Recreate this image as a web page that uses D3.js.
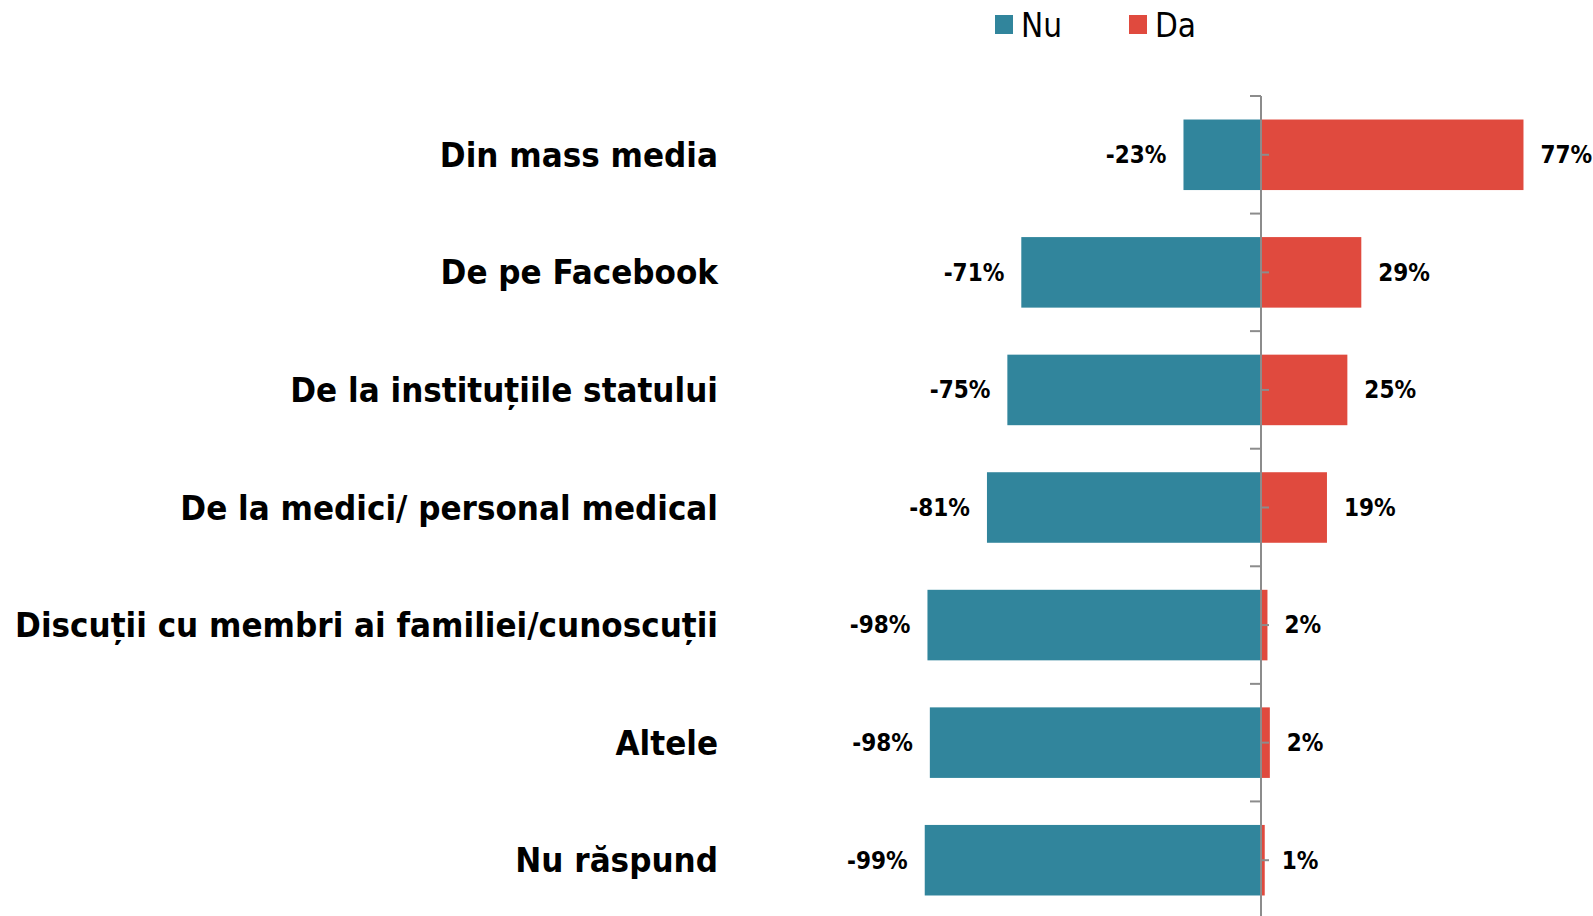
<!DOCTYPE html>
<html>
<head>
<meta charset="utf-8">
<script src="https://cdn.jsdelivr.net/npm/d3@7"></script>
<style>
body { margin: 0; background: #fff; }
svg { display: block; }
text { font-family: "Liberation Sans Narrow", "DejaVu Sans Condensed", sans-serif; fill: #000; }
</style>
</head>
<body>
<div id="chart"></div>
<script>
// DATA
var categories = ["Din mass media", "De pe Facebook", "De la instituțiile statului",
	"De la medici/ personal medical", "Discuții cu membri ai familiei/cunoscuții",
	"Altele", "Nu răspund"];
var nuValues = [-22.8, -70.5, -74.6, -80.6, -98.1, -97.4, -98.9];
var daValues = [77.2, 29.5, 25.4, 19.4, 1.9, 2.6, 1.1];
var nuLabels = ["-23%", "-71%", "-75%", "-81%", "-98%", "-98%", "-99%"];
var daLabels = ["77%", "29%", "25%", "19%", "2%", "2%", "1%"];
var seriesNames = ["Nu", "Da"];

var COLOUR_NU = "#31859C";
var COLOUR_DA = "#E04A3E";
var AXISCOLOUR = "#8C8C8C";

var width = 1593;
var height = 916;

var mySVG = d3.select("#chart")
	.append("svg")
	.attr("width", width)
	.attr("height", height);

var x = d3.scaleLinear()
	.domain([-100, 100])
	.range([921, 1601]);

var y = d3.scaleBand()
	.domain(categories)
	.range([96, 919])
	.paddingInner(0.4)
	.paddingOuter(0.2);

var g = mySVG.append("g");

//Nu bars
g.selectAll(".barNu")
	.data(nuValues)
	.enter().append("rect")
	.attr("class", "barNu")
	.attr("x", function(d) { return x(d); })
	.attr("width", function(d) { return x(0) - x(d); })
	.attr("y", function(d, i) { return y(categories[i]); })
	.attr("height", y.bandwidth())
	.attr("fill", COLOUR_NU);

//Da bars
g.selectAll(".barDa")
	.data(daValues)
	.enter().append("rect")
	.attr("class", "barDa")
	.attr("x", x(0))
	.attr("width", function(d) { return x(d) - x(0); })
	.attr("y", function(d, i) { return y(categories[i]); })
	.attr("height", y.bandwidth())
	.attr("fill", COLOUR_DA);

//axis line + ticks
var step = y.step();
var y0 = y.range()[0];
var boundaries = d3.range(categories.length + 1).map(function(i) { return y0 + i * step; });

g.append("line")
	.attr("x1", x(0)).attr("x2", x(0))
	.attr("y1", y0).attr("y2", y.range()[1])
	.attr("stroke", AXISCOLOUR)
	.attr("stroke-width", 2);

g.selectAll(".tickMajor")
	.data(boundaries)
	.enter().append("line")
	.attr("x1", x(0) - 11).attr("x2", x(0))
	.attr("y1", function(d) { return d; })
	.attr("y2", function(d) { return d; })
	.attr("stroke", AXISCOLOUR)
	.attr("stroke-width", 2);

g.selectAll(".tickMinor")
	.data(categories)
	.enter().append("line")
	.attr("x1", x(0)).attr("x2", x(0) + 8)
	.attr("y1", function(d) { return y(d) + y.bandwidth() / 2; })
	.attr("y2", function(d) { return y(d) + y.bandwidth() / 2; })
	.attr("stroke", AXISCOLOUR)
	.attr("stroke-width", 2);

//category labels
g.selectAll(".catLabel")
	.data(categories)
	.enter().append("text")
	.attr("x", 718)
	.attr("y", function(d) { return y(d) + y.bandwidth() / 2; })
	.attr("dy", "0.35em")
	.style("text-anchor", "end")
	.style("font-size", "34.6px")
	.style("font-weight", "bold")
	.text(function(d) { return d; });

//value labels
g.selectAll(".nuLabel")
	.data(nuValues)
	.enter().append("text")
	.attr("x", function(d) { return x(d) - 17; })
	.attr("y", function(d, i) { return y(categories[i]) + y.bandwidth() / 2; })
	.attr("dy", "0.35em")
	.style("text-anchor", "end")
	.style("font-size", "24px")
	.style("font-weight", "bold")
	.text(function(d, i) { return nuLabels[i]; });

g.selectAll(".daLabel")
	.data(daValues)
	.enter().append("text")
	.attr("x", function(d) { return x(d) + 17; })
	.attr("y", function(d, i) { return y(categories[i]) + y.bandwidth() / 2; })
	.attr("dy", "0.35em")
	.style("text-anchor", "start")
	.style("font-size", "24px")
	.style("font-weight", "bold")
	.text(function(d, i) { return daLabels[i]; });

//legend
var legendX = [995, 1129];
var legendColours = [COLOUR_NU, COLOUR_DA];
var legend = mySVG.selectAll(".legend")
	.data(seriesNames)
	.enter().append("g")
	.attr("class", "legend")
	.attr("transform", function(d, i) { return "translate(" + legendX[i] + ",15)"; });

legend.append("rect")
	.attr("width", 18).attr("height", 19)
	.attr("fill", function(d, i) { return legendColours[i]; });

legend.append("text")
	.attr("x", 26)
	.attr("y", 10)
	.attr("dy", "0.35em")
	.style("font-size", "33px")
	.text(function(d) { return d; });
</script>
</body>
</html>
